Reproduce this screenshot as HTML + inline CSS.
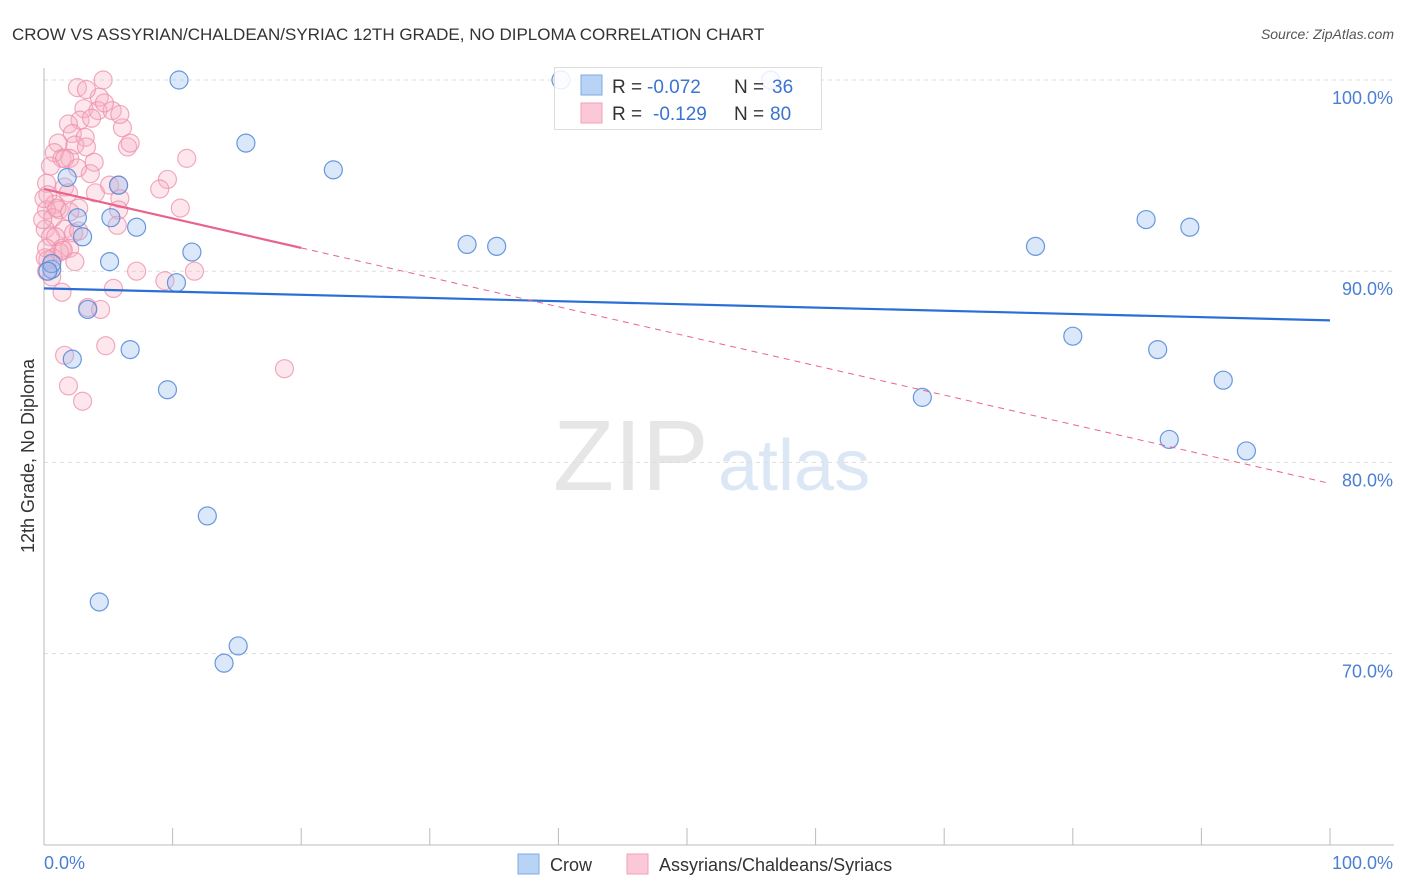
<!DOCTYPE html>
<html><head><meta charset="utf-8">
<style>
body{margin:0;background:#fff;font-family:"Liberation Sans",sans-serif;}
#wrap{position:relative;width:1406px;height:892px;overflow:hidden;}
svg text{font-family:"Liberation Sans",sans-serif;}
</style></head>
<body>
<div id="wrap">
<svg id="chart" width="1406" height="892">
  <text x="12" y="40" font-size="17" fill="#333">CROW VS ASSYRIAN/CHALDEAN/SYRIAC 12TH GRADE, NO DIPLOMA CORRELATION CHART</text>
  <text x="1394" y="39" font-size="14" fill="#555" font-style="italic" text-anchor="end">Source: ZipAtlas.com</text>
  <g>
    <text x="553" y="490" font-size="100" font-family="Liberation Serif" fill="#e6e6e6">ZIP</text>
    <text x="718" y="490" font-size="72" fill="#dce7f6">atlas</text>
  </g>
  <g id="grid"></g>
  <line x1="44" y1="68" x2="44" y2="845" stroke="#bbb"/>
  <line x1="44" y1="845" x2="1394" y2="845" stroke="#bbb"/>
  <g id="xticks"></g>
  <g id="ylabels"></g>
  <text transform="translate(34,456) rotate(-90)" font-size="18" fill="#333" text-anchor="middle">12th Grade, No Diploma</text>
  <text x="44" y="869" font-size="18" fill="#4a7fd4">0.0%</text>
  <text x="1393" y="869" font-size="18" fill="#4a7fd4" text-anchor="end">100.0%</text>
  <g id="pts"></g>
  <g id="trends"></g>
  <g>
    <rect x="554.5" y="67.5" width="267" height="62" fill="#fff" fill-opacity="0.85" stroke="#ddd"/>
    <rect x="581" y="75" width="21" height="20" fill="#b9d3f4" stroke="#7fa9e6"/>
    <rect x="581" y="103" width="21" height="20" fill="#fac8d6" stroke="#f0a0b8"/>
    <text x="612" y="93" font-size="19" fill="#333">R =</text>
    <text x="647" y="93" font-size="19" fill="#3a74d0">-0.072</text>
    <text x="734" y="93" font-size="19" fill="#333">N =</text>
    <text x="772" y="93" font-size="19" fill="#3a74d0">36</text>
    <text x="612" y="120" font-size="19" fill="#333">R =</text>
    <text x="653" y="120" font-size="19" fill="#3a74d0">-0.129</text>
    <text x="734" y="120" font-size="19" fill="#333">N =</text>
    <text x="770" y="120" font-size="19" fill="#3a74d0">80</text>
  </g>
  <g>
    <rect x="518" y="854" width="21" height="20" fill="#b9d3f4" stroke="#7fa9e6"/>
    <text x="550" y="871" font-size="18" fill="#333">Crow</text>
    <rect x="627" y="854" width="21" height="20" fill="#fac8d6" stroke="#f0a0b8"/>
    <text x="659" y="871" font-size="18" fill="#333">Assyrians/Chaldeans/Syriacs</text>
  </g>
</svg>
</div>
<script>
const yTicks=[100,90,80,70];
const yTickLabels=["100.0%","90.0%","80.0%","70.0%"];
const xTicks=[0,10,20,30,40,50,60,70,80,90,100];
// Crow points [x%, y%]
const crowX=[10.5,40.2,56.5,15.7,22.5,5.8,1.8,5.2,2.6,7.2,3.0,32.9,35.2,11.5,5.1,0.6,10.3,3.4,85.7,89.1,77.1,80.0,86.6,6.7,2.2,91.7,9.6,68.3,87.5,93.5,12.7,4.3,15.1,14.0,0.6,0.3];
const crowY=[100,100,100,96.7,95.3,94.5,94.9,92.8,92.8,92.3,91.8,91.4,91.3,91.0,90.5,90.1,89.4,88.0,92.7,92.3,91.3,86.6,85.9,85.9,85.4,84.3,83.8,83.4,81.2,80.6,77.2,72.7,70.4,69.5,90.4,90.0];
// Assyrian points
const asX=[4.6,2.6,4.3,3.3,3.1,4.2,5.3,2.8,1.9,3.7,6.1,2.2,3.2,1.1,2.4,3.3,6.5,6.7,0.8,1.4,2.0,3.9,0.5,11.1,3.6,0.2,1.6,9.6,9.0,4.0,5.1,5.8,2.7,5.9,10.6,5.8,0.3,0.8,1.2,0.2,0.7,0.1,1.6,2.3,2.7,0.5,0.9,1.4,2.0,1.2,0.2,0.3,0.7,0.1,5.7,7.2,9.4,11.7,5.4,1.4,3.4,4.4,4.8,1.6,18.7,1.9,3.0,1.0,1.5,0.2,0.6,1.9,0.0,2.0,1.6,4.7,5.9,-0.1,2.4,2.6];
const asY=[100,99.6,99.1,99.5,98.5,98.4,98.4,97.9,97.7,98.0,97.5,97.2,97.0,96.7,96.6,96.5,96.5,96.7,96.2,95.9,95.9,95.7,95.5,95.9,95.1,94.6,94.4,94.8,94.3,94.1,94.5,94.5,93.3,93.8,93.3,93.2,94.0,93.5,93.2,93.2,92.8,92.2,92.2,92.0,92.1,91.8,91.8,91.2,91.2,91.0,91.2,90.6,90.7,90.7,92.4,90.0,89.5,90.0,89.1,88.9,88.1,88.0,86.1,85.6,84.9,84.0,83.2,93.3,91.1,90.0,89.7,94.1,93.8,93.1,95.9,98.8,98.2,92.7,90.5,95.4];
const crowTrend=[89.1,87.43];
const asTrend=[94.3,78.9];
const asSolidEnd=20;

const X0=44,X1=1330,Y100=80,PER10=191.2;
const sx=v=>X0+(X1-X0)*v/100;
const sy=v=>Y100+(100-v)*PER10/10;
const NS="http://www.w3.org/2000/svg";
function mk(tag,attrs,parent){const e=document.createElementNS(NS,tag);for(const k in attrs)e.setAttribute(k,attrs[k]);parent.appendChild(e);return e;}
const grid=document.getElementById('grid'),yl=document.getElementById('ylabels'),xt=document.getElementById('xticks'),pts=document.getElementById('pts'),tr=document.getElementById('trends');
yTicks.forEach((t,i)=>{
  const l=mk('line',{x1:44,x2:1394,y1:sy(t),y2:sy(t),stroke:'#ddd','stroke-dasharray':'4,4'},grid);
  
  
  const tx=mk('text',{x:1393,y:sy(t)+24,'font-size':18,fill:'#4a7fd4','text-anchor':'end'},yl);
  tx.textContent=yTickLabels[i];
  
  
});
xTicks.forEach(t=>{
  const l=mk('line',{x1:sx(t),x2:sx(t),y1:828,y2:845,stroke:'#bbb'},xt);
  
  
});
asX.forEach((x,i)=>{
  const c=mk('circle',{cx:sx(x),cy:sy(asY[i]),r:9,fill:'rgba(248,175,197,0.3)',stroke:'rgba(236,143,171,0.75)','stroke-width':1.2},pts);
  
  
});
crowX.forEach((x,i)=>{
  const c=mk('circle',{cx:sx(x),cy:sy(crowY[i]),r:9,fill:'rgba(150,190,240,0.35)',stroke:'rgba(80,135,215,0.85)','stroke-width':1.2},pts);
  
  
});
const l1=mk('line',{x1:sx(0),y1:sy(crowTrend[0]),x2:sx(100),y2:sy(crowTrend[1]),stroke:'#2a6fd6','stroke-width':2.2},tr);


const asAt=v=>asTrend[0]+(asTrend[1]-asTrend[0])*v/100;
const l2=mk('line',{x1:sx(0),y1:sy(asTrend[0]),x2:sx(asSolidEnd),y2:sy(asAt(asSolidEnd)),stroke:'#e8648f','stroke-width':2.2},tr);


const l3=mk('line',{x1:sx(asSolidEnd),y1:sy(asAt(asSolidEnd)),x2:sx(100),y2:sy(asTrend[1]),stroke:'#e8648f','stroke-width':1,'stroke-dasharray':'6,5'},tr);


</script>
</body></html>
